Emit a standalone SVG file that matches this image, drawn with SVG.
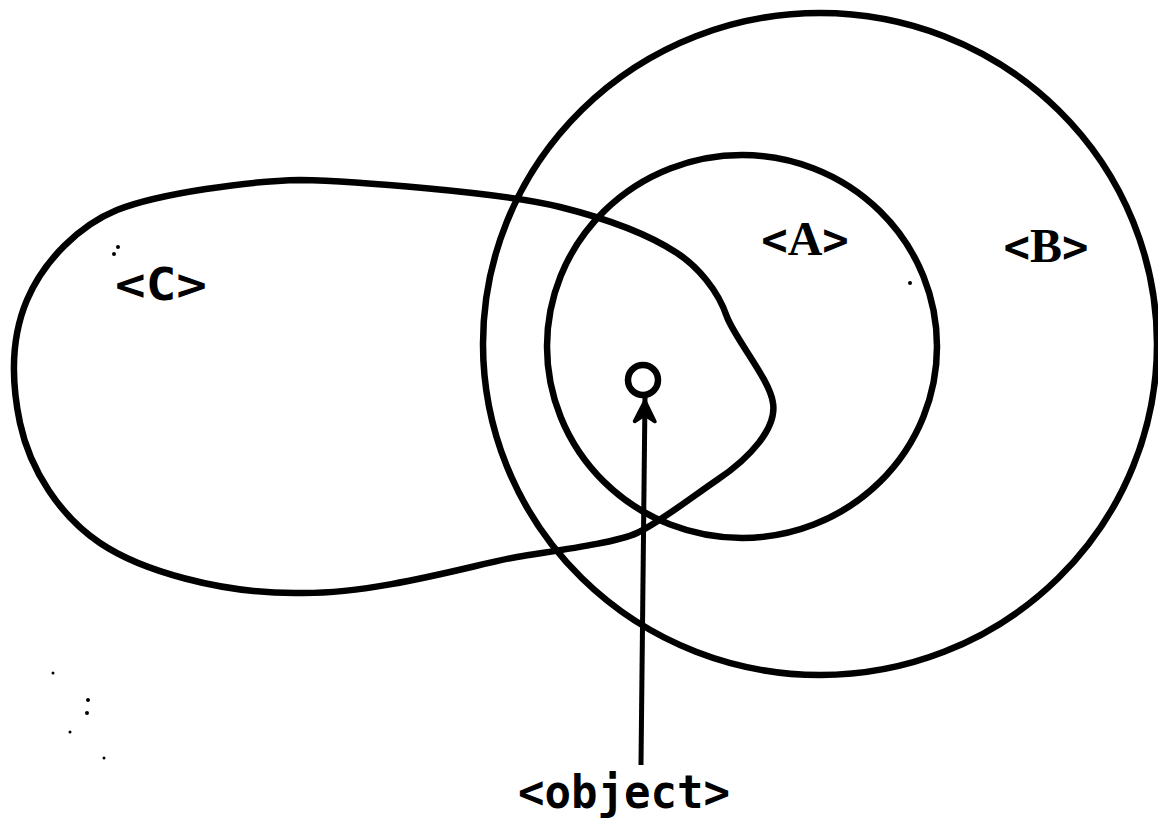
<svg xmlns="http://www.w3.org/2000/svg" width="1158" height="828" viewBox="0 0 1158 828">
<style>
.ln{fill:none;stroke:#000;stroke-width:6.5;stroke-linecap:round;stroke-linejoin:round}
.lbl{font-family:"DejaVu Sans Mono","Liberation Mono",monospace;font-weight:bold;fill:#000;text-anchor:middle}
.ser{font-family:"Liberation Serif","DejaVu Serif",serif;font-weight:bold}
.lbl2{font-family:"DejaVu Sans Mono","Liberation Mono",monospace;font-weight:bold;fill:#000;text-anchor:middle}
.dot{fill:#000}
</style>
<defs>
<marker id="arr" viewBox="0 0 30 26" refX="28" refY="13" markerWidth="30" markerHeight="26" markerUnits="userSpaceOnUse" orient="auto">
<path d="M28,13 L4,1 Q1,1 2,4 L8,13 L2,22 Q1,25 4,25 Z" fill="#000"/>
</marker>
</defs>
<rect width="1158" height="828" fill="#fff"/>
<g id="B">
<ellipse class="ln" cx="820" cy="344" rx="337" ry="331"/>
<text class="lbl" x="1046" y="262" font-size="44">&lt;<tspan class="ser" font-size="48">B</tspan>&gt;</text>
</g>
<g id="A">
<ellipse class="ln" cx="742" cy="346.5" rx="195" ry="191.5"/>
<text class="lbl" x="805" y="255" font-size="44">&lt;<tspan class="ser" font-size="48">A</tspan>&gt;</text>
</g>
<g id="C">
<path class="ln" d="M300,180 C350,181 500,192 560,207 C600,217 645,232 677,253 C697,266 718,290 727,317 C736,340 770,380 773,403 C777,428 750,458 717,480 C692,497 660,522 637,533 C615,543 560,550 517,557 C480,563 380,594 300,593 C220,594 140,570 100,543 C60,516 30,470 20,423 C12,385 10,340 27,300 C44,260 80,225 117,210 C160,193 250,181 300,180 Z"/>
<text class="lbl2" x="161" y="300" font-size="44" textLength="92" lengthAdjust="spacingAndGlyphs">&lt;C&gt;</text>
</g>
<g id="object">
<circle class="ln" cx="643" cy="380" r="15" stroke-width="5.5"/>
<text class="lbl2" x="624" y="808" font-size="46" textLength="212" lengthAdjust="spacingAndGlyphs">&lt;object&gt;</text>
</g>
<g id="connectors">
<line x1="641" y1="765" x2="645" y2="397" stroke="#000" stroke-width="5" marker-end="url(#arr)"/>
</g>
<g id="specks">
<circle class="dot" cx="118" cy="247" r="2"/>
<circle class="dot" cx="114" cy="254" r="2"/>
<circle class="dot" cx="910" cy="283" r="2"/>
<circle class="dot" cx="53" cy="673" r="1.5"/>
<circle class="dot" cx="88" cy="700" r="2"/>
<circle class="dot" cx="87" cy="713" r="2"/>
<circle class="dot" cx="70" cy="732" r="1.5"/>
<circle class="dot" cx="104" cy="758" r="1.5"/>
</g>
</svg>
